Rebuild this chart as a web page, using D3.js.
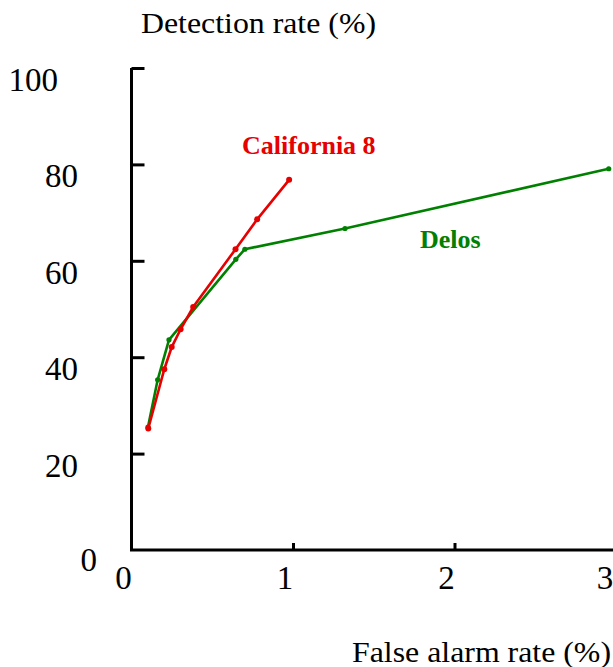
<!DOCTYPE html>
<html><head><meta charset="utf-8">
<script src="https://cdn.jsdelivr.net/npm/d3@7"></script>
<style>body{margin:0;background:#fff}svg{display:block}text{font-family:"Liberation Serif","Times New Roman",serif}</style>
</head><body><svg id="c" width="613" height="667"></svg>
<script>
const californiaX = [0.104, 0.203, 0.249, 0.304, 0.382, 0.644, 0.778, 0.976];
const californiaY = [25.2, 37.5, 42.1, 45.8, 50.4, 62.4, 68.6, 76.8];
const delosX = [0.102, 0.162, 0.232, 0.646, 0.702, 1.322, 2.955];
const delosY = [25.5, 35.3, 43.6, 60.3, 62.4, 66.7, 79.1];
const xTicks = [0, 1, 2, 3];
const yTicks = [0, 20, 40, 60, 80, 100];
const seriesNames = ["California 8", "Delos"];

const svg = d3.select("#c");
const x = d3.scaleLinear().domain([0, 3]).range([131.5, 616]);
const y = d3.scaleLinear().domain([0, 100]).range([550, 68]);
const red = "#e60000", green = "#008000";

// axes
svg.append("line").attr("x1", x(0)).attr("x2", x(0)).attr("y1", y(100)).attr("y2", y(0)).attr("stroke", "#000").attr("stroke-width", 3);
svg.append("line").attr("x1", x(0) - 1.5).attr("x2", 613).attr("y1", y(0)).attr("y2", y(0)).attr("stroke", "#000").attr("stroke-width", 3);

const yAx = svg.append("g").attr("transform", `translate(${x(0)},0)`)
  .call(d3.axisLeft(y).tickValues(yTicks.filter(v => v > 0)).tickSize(-13).tickFormat(""));
yAx.select(".domain").remove();
yAx.selectAll(".tick line").attr("stroke-width", 3).attr("x1", 0);

const xAx = svg.append("g").attr("transform", `translate(0,${y(0)})`)
  .call(d3.axisBottom(x).tickValues(xTicks.filter(v => v > 0 && v < 3)).tickSize(-7).tickFormat(""));
xAx.select(".domain").remove();
xAx.selectAll(".tick line").attr("stroke-width", 3);

// tick labels
svg.selectAll(".ylab").data(yTicks).join("text")
  .attr("x", d => d === 100 ? 58 : d === 0 ? 97 : 78)
  .attr("y", d => y(d) + (d === 0 ? 21 : 23))
  .attr("text-anchor", "end").attr("font-size", 33).text(d => d);
svg.selectAll(".xlab").data(xTicks).join("text")
  .attr("x", d => Math.min(x(d) - 8, 605)).attr("y", 589)
  .attr("text-anchor", "middle").attr("font-size", 33).text(d => d);

// titles
svg.append("text").attr("x", 141).attr("y", 33).attr("font-size", 30)
  .attr("textLength", 235).attr("lengthAdjust", "spacingAndGlyphs").text("Detection rate (%)");
svg.append("text").attr("x", 352).attr("y", 662).attr("font-size", 30)
  .attr("textLength", 259).attr("lengthAdjust", "spacingAndGlyphs").text("False alarm rate (%)");

// series
const line = d3.line().x(d => x(d[0])).y(d => y(d[1]));
const delos = delosX.map((v, i) => [v, delosY[i]]);
const cal = californiaX.map((v, i) => [v, californiaY[i]]);
function draw(data, color, r) {
  svg.append("path").datum(data).attr("d", line).attr("fill", "none").attr("stroke", color).attr("stroke-width", 2.6);
  svg.append("g").selectAll("circle").data(data).join("circle")
    .attr("cx", d => x(d[0])).attr("cy", d => y(d[1])).attr("r", r).attr("fill", color);
}
draw(delos, green, 2.6);
draw(cal, red, 3);

svg.append("text").attr("x", 242).attr("y", 154).attr("font-size", 26).attr("font-weight", "bold").attr("fill", red).text(seriesNames[0]);
svg.append("text").attr("x", 420).attr("y", 248).attr("font-size", 26).attr("font-weight", "bold").attr("fill", green).text(seriesNames[1]);
</script></body></html>
